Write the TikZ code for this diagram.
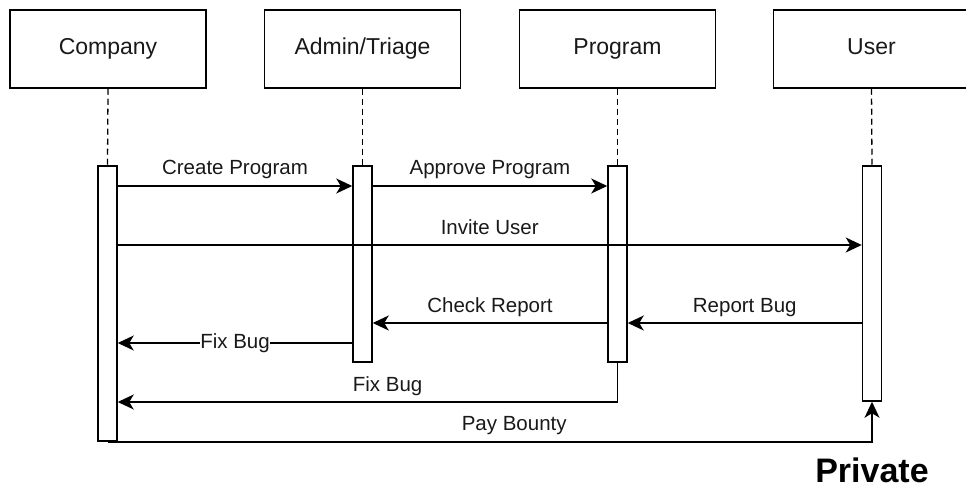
\documentclass[tikz,border=0pt]{standalone}
\usepackage{fontspec}
\setmainfont{Liberation Sans}
\usetikzlibrary{arrows.meta,calc}
\begin{document}
\begin{tikzpicture}[x=1pt,y=-1pt,
  actor/.style={draw, line width=1.5pt, minimum width=196pt, minimum height=78pt,
    inner sep=0pt, text height=17pt, text depth=5pt,
    font=\fontsize{23}{26}\selectfont, text=black!90},
  bar/.style={draw, fill=white, line width=1.5pt, minimum width=19pt, inner sep=0pt},
  lifeline/.style={line width=1.3pt, dash pattern=on 6pt off 4pt},
  msg/.style={line width=1.5pt, -{Stealth[length=16pt,width=15pt,inset=4.5pt]}},
  lbl/.style={font=\fontsize{20.5}{24}\selectfont, text=black!90, inner sep=1pt},
  above lbl/.style={lbl, anchor=base, yshift=11pt}
]
\useasboundingbox (0,0) rectangle (966,489);

% participants
\node[actor] (company) at (108,49) {Company};
\node[actor] (admin)   at (362.5,49) {Admin/Triage};
\node[actor] (program) at (617.5,49) {Program};
\node[actor] (user)    at (871.5,49) {User};

% activation bars
\node[bar, minimum height=275pt] (cbar) at (107.5,303.5) {};
\node[bar, minimum height=196pt] (abar) at (362.5,264) {};
\node[bar, minimum height=196pt] (pbar) at (617.5,264) {};
\node[bar, minimum height=235pt] (ubar) at (872,283.5) {};

% lifelines
\draw[lifeline] (company.south) -- (cbar.north);
\draw[lifeline] (admin.south)   -- (abar.north);
\draw[lifeline] (program.south) -- (pbar.north);
\draw[lifeline] (user.south)    -- (ubar.north);

% message rows
\coordinate (r1) at (0,186);
\coordinate (r2) at (0,245);
\coordinate (r3) at (0,323);
\coordinate (r4) at (0,343);
\coordinate (r5) at (0,402);

% messages
\draw[msg] (cbar.east |- r1) -- (abar.west |- r1)
  node[above lbl, pos=0.5] {Create Program};
\draw[msg] (abar.east |- r1) -- (pbar.west |- r1)
  node[above lbl, pos=0.5] {Approve Program};
\draw[msg] (cbar.east |- r2) -- (ubar.west |- r2)
  node[above lbl, pos=0.5] {Invite User};
\draw[msg] (pbar.west |- r3) -- (abar.east |- r3)
  node[above lbl, pos=0.5] {Check Report};
\draw[msg] (ubar.west |- r3) -- (pbar.east |- r3)
  node[above lbl, pos=0.5] {Report Bug};
\draw[msg] (abar.west |- r4) -- (cbar.east |- r4)
  node[lbl, fill=white, pos=0.5, inner xsep=0pt] {Fix Bug};
\draw[msg] (pbar.south) |- (cbar.east |- r5)
  node[above lbl, pos=0.73] {Fix Bug};
\draw[msg] (cbar.south) -| (ubar.south)
  node[above lbl, pos=0.266] {Pay Bounty};

% caption
\node[font=\bfseries\fontsize{34}{40}\selectfont, anchor=base] (private) at (872,482) {Private};
\end{tikzpicture}
\end{document}
